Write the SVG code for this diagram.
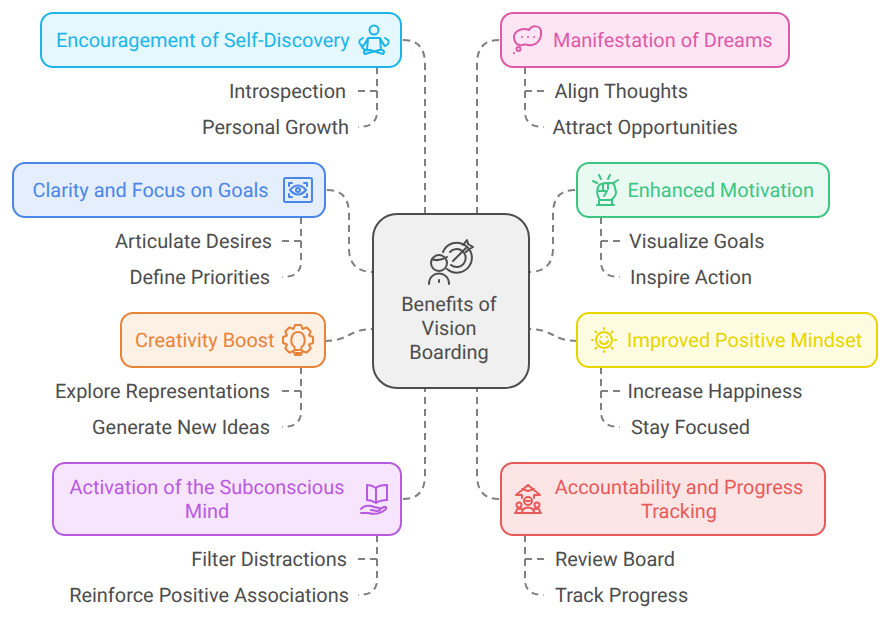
<svg xmlns="http://www.w3.org/2000/svg" width="890" height="619" viewBox="0 0 890 619">
<style>
text{font-family:Roboto,"Liberation Sans",sans-serif;font-size:19.930px;text-rendering:geometricPrecision}
.c{fill:none;stroke:#808080;stroke-width:2;stroke-dasharray:7 5}
.l{fill:#4d4d4d}
.e{text-anchor:end}
.m{text-anchor:middle}
.i{fill:none;stroke-width:2;stroke-linecap:round;stroke-linejoin:round}
.box{stroke-width:2}
</style>
<rect width="890" height="619" fill="#fff"/>
<g id="connectors">
<path class="c" d="M403 40Q425 40 425 64V214"/>
<path class="c" d="M499 40Q477 40 477 64V214"/>
<path class="c" d="M327 190Q349 190 349 214V248Q349 272 373 272"/>
<path class="c" d="M575 190Q553 190 553 214V248Q553 272 529 272"/>
<path class="c" d="M325 341C349 341 349 329 373 329"/>
<path class="c" d="M577 341C553 341 553 329 529 329"/>
<path class="c" d="M403 499Q425 499 425 475V388"/>
<path class="c" d="M499 499Q477 499 477 475V388"/>
<path class="c" d="M377 67V91H358"/><path class="c" d="M377 67V112Q377 127 358 127"/>
<path class="c" d="M525 67V91H544"/><path class="c" d="M525 67V112Q525 127 544 127"/>
<path class="c" d="M301 217V241H282"/><path class="c" d="M301 217V262Q301 277 282 277"/>
<path class="c" d="M601 217V241H620"/><path class="c" d="M601 217V262Q601 277 620 277"/>
<path class="c" d="M301 367V391H282"/><path class="c" d="M301 367V412Q301 427 282 427"/>
<path class="c" d="M601 367V391H620"/><path class="c" d="M601 367V412Q601 427 620 427"/>
<path class="c" d="M377 535V559H358"/><path class="c" d="M377 535V580Q377 595 358 595"/>
<path class="c" d="M525 535V559H544"/><path class="c" d="M525 535V580Q525 595 544 595"/>
</g>
<g id="center">
<rect x="373" y="214" width="156" height="174" rx="24" fill="#f0f0f0" stroke="#4d4d4d" stroke-width="2"/>
<g class="i" stroke="#4d4d4d" stroke-width="1.500">
<circle cx="439" cy="263" r="8"/><path d="M432 259Q439 262 447 257"/><path d="M429 284C429 270 449 270 449 284M439 280V282"/>
<path d="M443 252A15 15 0 1 1 447 269M450 252A9 9 0 1 1 451 265M453 261L466 248M463 245L467 240L468 244L473 247L468 250L466 252"/>
</g>
<text class="l m" x="449" y="311">Benefits of</text>
<text class="l m" x="449" y="335">Vision</text>
<text class="l m" x="449" y="359">Boarding</text>
</g>
<g id="self-discovery">
<rect class="box" x="41" y="13" width="360" height="54" rx="12" fill="#e5f8fe" stroke="#1cb5e8"/>
<text x="56" y="47" fill="#1cb5e8">Encouragement of Self-Discovery</text>
<g class="i" stroke="#1cb5e8"><circle cx="374" cy="30" r="4.500"/><path d="M368 38H380L381 50M368 38L367 50M368 38C366 42 364 45 363 46C360 45 358 42 360 40L363 38M380 38C382 42 384 45 385 46C388 45 390 42 388 40L385 38M361 45C362 49 366 51 370 50L383 54C386 51 382 49 379 50L365 54C362 51 365 50 369 50"/></g>
<text class="l e" x="346" y="98">Introspection</text>
<text class="l e" x="349" y="134">Personal Growth</text>
</g>
<g id="manifestation">
<rect class="box" x="501" y="13" width="288" height="54" rx="12" fill="#fde5f3" stroke="#dd5aa8"/>
<text x="553" y="47" fill="#dd5aa8">Manifestation of Dreams</text>
<g class="i" stroke="#dd5aa8"><path d="M529 30C532 25 540 25 541 31C542 38 538 44 532 45C527 46 526 43 522 45C517 46 514 42 514 37C514 31 523 27 529 30Z"/><circle cx="518.500" cy="49" r="2"/><path d="M514 53V53.200M522 37V37.100M528 37V37.100M534 37V37.100"/></g>
<text class="l" x="554.500" y="98">Align Thoughts</text>
<text class="l" x="552.500" y="134">Attract Opportunities</text>
</g>
<g id="clarity">
<rect class="box" x="13" y="163" width="312" height="54" rx="12" fill="#e5eefd" stroke="#4a86e8"/>
<text x="32.500" y="197" fill="#4a86e8">Clarity and Focus on Goals</text>
<g class="i" stroke="#4a86e8"><rect x="284" y="178" width="28" height="24" rx="1.500"/><path d="M289 186V183H292M304 183H307V186M289 194V197H292M304 197H307V194M290 190C295 184 301 184 306 190C301 196 295 196 290 190Z"/><circle cx="298" cy="190" r="2"/></g>
<text class="l e" x="272" y="248">Articulate Desires</text>
<text class="l e" x="270" y="284">Define Priorities</text>
</g>
<g id="motivation">
<rect class="box" x="577" y="163" width="252" height="54" rx="12" fill="#e8faf1" stroke="#3cc583"/>
<text x="627.500" y="197" fill="#3cc583">Enhanced Motivation</text>
<g class="i" stroke="#3cc583"><path d="M599 185C602 183 612 182 614 184L616 192C616 197 612 199 611 200H600C597 197 596 190 599 185ZM603 184V190M608 183V189M599 191H607L604 196M597 205H614M599 200V205M612 200V205M593 181L597 183M599 175L601 179M608 179L610 175M613 183L618 180"/></g>
<text class="l" x="629" y="248">Visualize Goals</text>
<text class="l" x="630" y="284">Inspire Action</text>
</g>
<g id="creativity">
<rect class="box" x="121" y="313" width="204" height="54" rx="12" fill="#fdf0e5" stroke="#e8833a"/>
<text x="135" y="347" fill="#e8833a">Creativity Boost</text>
<g class="i" stroke="#e8833a"><path d="M293.500 329L295 325H301L302.500 329L306.500 327.300L310.700 331.500L309 335.500L313 337V343L309 344.500L310.700 348.500L306.500 352.700L302.500 351L301 355H295L293.500 351L289.500 352.700L285.300 348.500L287 344.500L283 343V337L287 335.500L285.300 331.500L289.500 327.300Z"/><path d="M294.500 347C289 343 291 332 298 332C305 332 307 343 301.500 347V350H294.500ZM296 353H300"/></g>
<text class="l e" x="270" y="398">Explore Representations</text>
<text class="l e" x="270" y="434">Generate New Ideas</text>
</g>
<g id="mindset">
<rect class="box" x="577" y="313" width="300" height="54" rx="12" fill="#fefce0" stroke="#e8d500"/>
<text x="627" y="347" fill="#e8d500">Improved Positive Mindset</text>
<g class="i" stroke="#e8d500"><circle cx="604" cy="340" r="8"/><path d="M604 328V329M604 351V352M592 340H593M615 340H616M595.500 331.500L596.500 332.500M611.500 347.500L612.500 348.500M612.500 331.500L611.500 332.500M596.500 347.500L595.500 348.500M600 341C601 345 607 345 608 341M601 337V337.100M607 337V337.100"/></g>
<text class="l" x="627.500" y="398">Increase Happiness</text>
<text class="l" x="631" y="434">Stay Focused</text>
</g>
<g id="subconscious">
<rect class="box" x="53" y="463" width="348" height="72" rx="12" fill="#f7e5fd" stroke="#b75ae0"/>
<text class="m" x="207" y="494" fill="#b75ae0">Activation of the Subconscious</text>
<text class="m" x="207" y="518" fill="#b75ae0">Mind</text>
<g class="i" stroke="#b75ae0"><path d="M376 488C372 485 370 485 367 485V500C370 500 373 501 376 503C379 501 383 500 387 500V485C383 485 379 485 376 488ZM376 488V503M361 509C364 505 370 505 374 507L379 508C381 509 380 511 377 511L371 510M380 509L384 507C386 506 387 508 385 510C381 513 375 515 368 513L361 513"/></g>
<text class="l e" x="347" y="566">Filter Distractions</text>
<text class="l e" x="349" y="602">Reinforce Positive Associations</text>
</g>
<g id="accountability">
<rect class="box" x="501" y="463" width="324" height="72" rx="12" fill="#fde5e5" stroke="#e85a5a"/>
<text class="m" x="679" y="494" fill="#e85a5a">Accountability and Progress</text>
<text class="m" x="679" y="518" fill="#e85a5a">Tracking</text>
<g class="i" stroke="#e85a5a"><path d="M522 498V495H516L528 485L540 495H534V498M522 489L528 491L534 489"/><circle cx="528" cy="501" r="4"/><circle cx="519" cy="505" r="2.500"/><circle cx="537" cy="505" r="2.500"/><path d="M526 501H530M515 513H541M516 512C516 508 521 508 523 510M540 512C540 508 535 508 533 510M522 512C523 506 533 506 534 512"/></g>
<text class="l" x="555" y="566">Review Board</text>
<text class="l" x="555" y="602">Track Progress</text>
</g>
</svg>
